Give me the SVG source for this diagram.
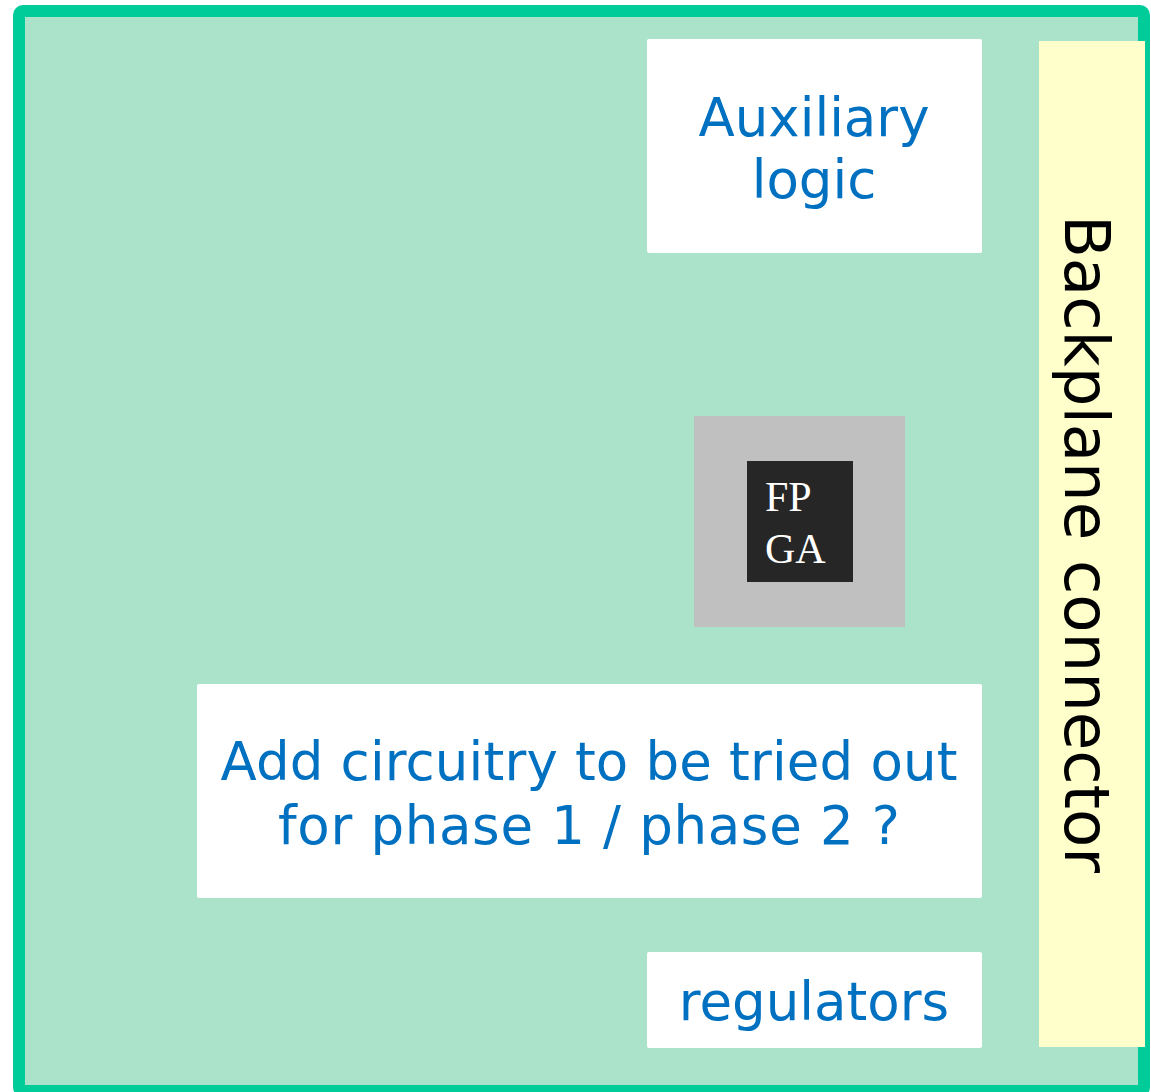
<svg xmlns="http://www.w3.org/2000/svg" width="1151" height="1092" viewBox="0 0 1151 1092">
  <style>
    .box { fill: #FFFFFF; }
    .label { font-family: "DejaVu Sans", Verdana, sans-serif; font-size: 53px; fill: #0070C0; text-anchor: middle; }
    .chip { font-family: "Liberation Serif", "Times New Roman", serif; font-size: 42px; fill: #FFFFFF; }
    .edge { font-family: "DejaVu Sans", Verdana, sans-serif; font-size: 63px; fill: #000000; }
  </style>

  <!-- Board outline -->
  <g id="board">
    <rect x="19" y="11" width="1125" height="1080" rx="4" fill="#ABE3CA" stroke="#00CC99" stroke-width="12"/>
  </g>

  <!-- Edge connector along the right side -->
  <g id="backplane-connector">
    <rect x="1039" y="41" width="106" height="1006" fill="#FFFFCC"/>
    <text class="edge" transform="translate(1065,215) rotate(90)" textLength="658" lengthAdjust="spacingAndGlyphs">Backplane connector</text>
  </g>

  <g id="auxiliary-logic">
    <rect class="box" x="647" y="39" width="335" height="214" rx="2"/>
    <text class="label" x="814" y="136">Auxiliary</text>
    <text class="label" x="814" y="198">logic</text>
  </g>

  <g id="fpga">
    <rect x="694" y="416" width="211" height="211" fill="#C0C0C0"/>
    <rect x="747" y="461" width="106" height="121" fill="#262626"/>
    <text class="chip" x="765" y="511">FP</text>
    <text class="chip" x="765" y="563">GA</text>
  </g>

  <g id="trial-circuitry">
    <rect class="box" x="197" y="684" width="785" height="214" rx="2"/>
    <text class="label" x="589" y="780" textLength="737" lengthAdjust="spacing">Add circuitry to be tried out</text>
    <text class="label" x="589" y="844" textLength="622" lengthAdjust="spacing">for phase 1 / phase 2 ?</text>
  </g>

  <g id="regulators">
    <rect class="box" x="647" y="952" width="335" height="96" rx="2"/>
    <text class="label" x="814" y="1020">regulators</text>
  </g>

  <!-- No connectors between blocks -->
  <g id="connectors"/>
</svg>
